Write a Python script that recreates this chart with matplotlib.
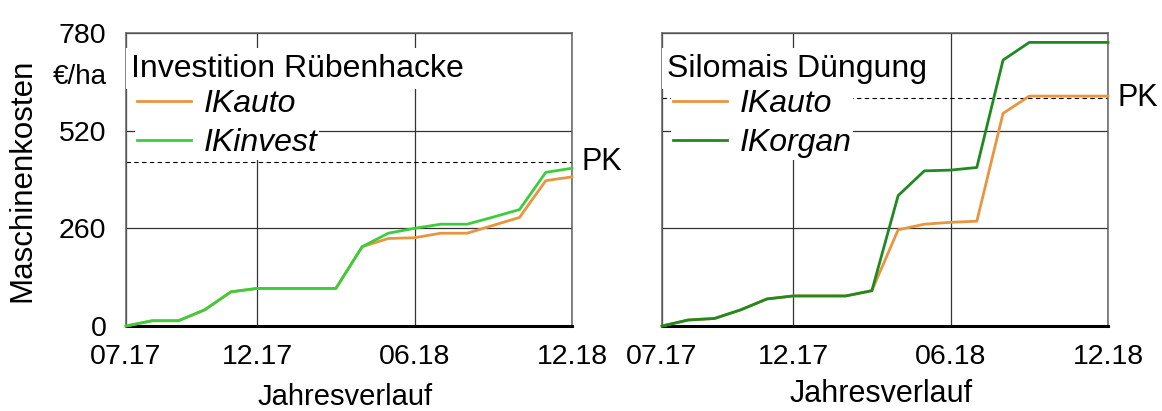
import numpy as np
import matplotlib
matplotlib.use("Agg")
import matplotlib.pyplot as plt

plt.rcParams['font.family'] = ['Liberation Sans', 'DejaVu Sans']

# Monate ab 07.17 (0) bis 12.18 (17)
monate = np.arange(18)
tick_pos = [0, 5, 11, 17]
tick_lab = ["07.17", "12.17", "06.18", "12.18"]
y_ticks = [0, 260, 520, 780]

# Rübenhacke (€/ha, kumuliert)
rh_auto = [0, 14, 14, 43, 91, 100, 100, 100, 100, 211, 233, 235, 247, 247, 268, 289, 387, 397]
rh_invest = [0, 14, 14, 43, 91, 100, 100, 100, 100, 211, 247, 260, 271, 271, 290, 310, 409, 420]
rh_pk = 436

# Silomais Düngung (€/ha, kumuliert)
sm_auto = [0, 16, 20, 43, 72, 80, 80, 80, 94, 256, 271, 276, 279, 566, 612, 612, 612, 612]
sm_organ = [0, 16, 20, 43, 72, 80, 80, 80, 94, 347, 413, 415, 422, 708, 755, 755, 755, 755]
sm_pk = 607

c_auto = "#E8953F"
c_invest = "#3CCD3C"
c_organ = "#1F8A1F"

W, H = 1162, 411
fig = plt.figure(figsize=(W / 100, H / 100), dpi=100)
ax1 = fig.add_axes([126 / W, 1 - 326 / H, 446 / W, 293 / H])
ax2 = fig.add_axes([662 / W, 1 - 326 / H, 446 / W, 293 / H])


def panel(ax, titel, s1, s2, lab2, c2, pk):
    ax.set_xlim(0, 17)
    ax.set_ylim(0, 780)
    ax.set_xticks(tick_pos)
    ax.set_xticklabels(tick_lab)
    ax.set_yticks(y_ticks)
    ax.tick_params(length=0, labelsize=20.5, pad=13)
    ax.tick_params(axis='y', pad=14)
    ax.grid(True, color="#333333", linewidth=0.9)
    ax.set_axisbelow(True)
    for s in ["left", "top", "right"]:
        ax.spines[s].set_color("#606060")
        ax.spines[s].set_linewidth(1.1)
    ax.spines["bottom"].set_color("black")
    ax.spines["bottom"].set_linewidth(2.2)

    ax.axhline(pk, color="black", linewidth=0.8, linestyle=(0, (4, 3)), zorder=1.5)
    ax.annotate("PK", xy=(17, pk), xytext=(7, 0), textcoords="offset points",
                ha="left", va="center", fontsize=22, annotation_clip=False)

    ax.plot(monate, s1, color=c_auto, linewidth=2, label="IKauto", zorder=3, clip_on=False)
    ax.plot(monate, s2, color=c2, linewidth=2, label=lab2, zorder=4, clip_on=False)

    ax.text(0.012, 0.93, titel, transform=ax.transAxes, fontsize=23, ha="left", va="top",
            zorder=5, bbox=dict(facecolor="white", edgecolor="none", pad=4))
    leg = ax.legend(loc="upper left", bbox_to_anchor=(0.02, 0.815), borderaxespad=0,
                    prop={'style': 'italic', 'size': 23},
                    handlelength=1.7, handletextpad=0.4, labelspacing=0.3,
                    borderpad=0.05, frameon=True, fancybox=False)
    leg.get_frame().set_facecolor("white")
    leg.get_frame().set_edgecolor("none")
    leg.get_frame().set_alpha(1)
    leg.set_zorder(6)


panel(ax1, "Investition Rübenhacke", rh_auto, rh_invest, "IKinvest", c_invest, rh_pk)
panel(ax2, "Silomais Düngung", sm_auto, sm_organ, "IKorgan", c_organ, sm_pk)
ax2.tick_params(axis='y', labelleft=False)

fig.text(22 / W, 1 - 180 / H, "Maschinenkosten", rotation=90, fontsize=22.5, ha="center", va="center")
fig.text(80 / W, 1 - 77 / H, "€/ha", fontsize=20, ha="center", va="center")
fig.text(345 / W, 1 - 397 / H, "Jahresverlauf", fontsize=21, ha="center", va="center")
fig.text(881 / W, 1 - 394 / H, "Jahresverlauf", fontsize=22, ha="center", va="center")

fig.savefig("out.png", dpi=100)
